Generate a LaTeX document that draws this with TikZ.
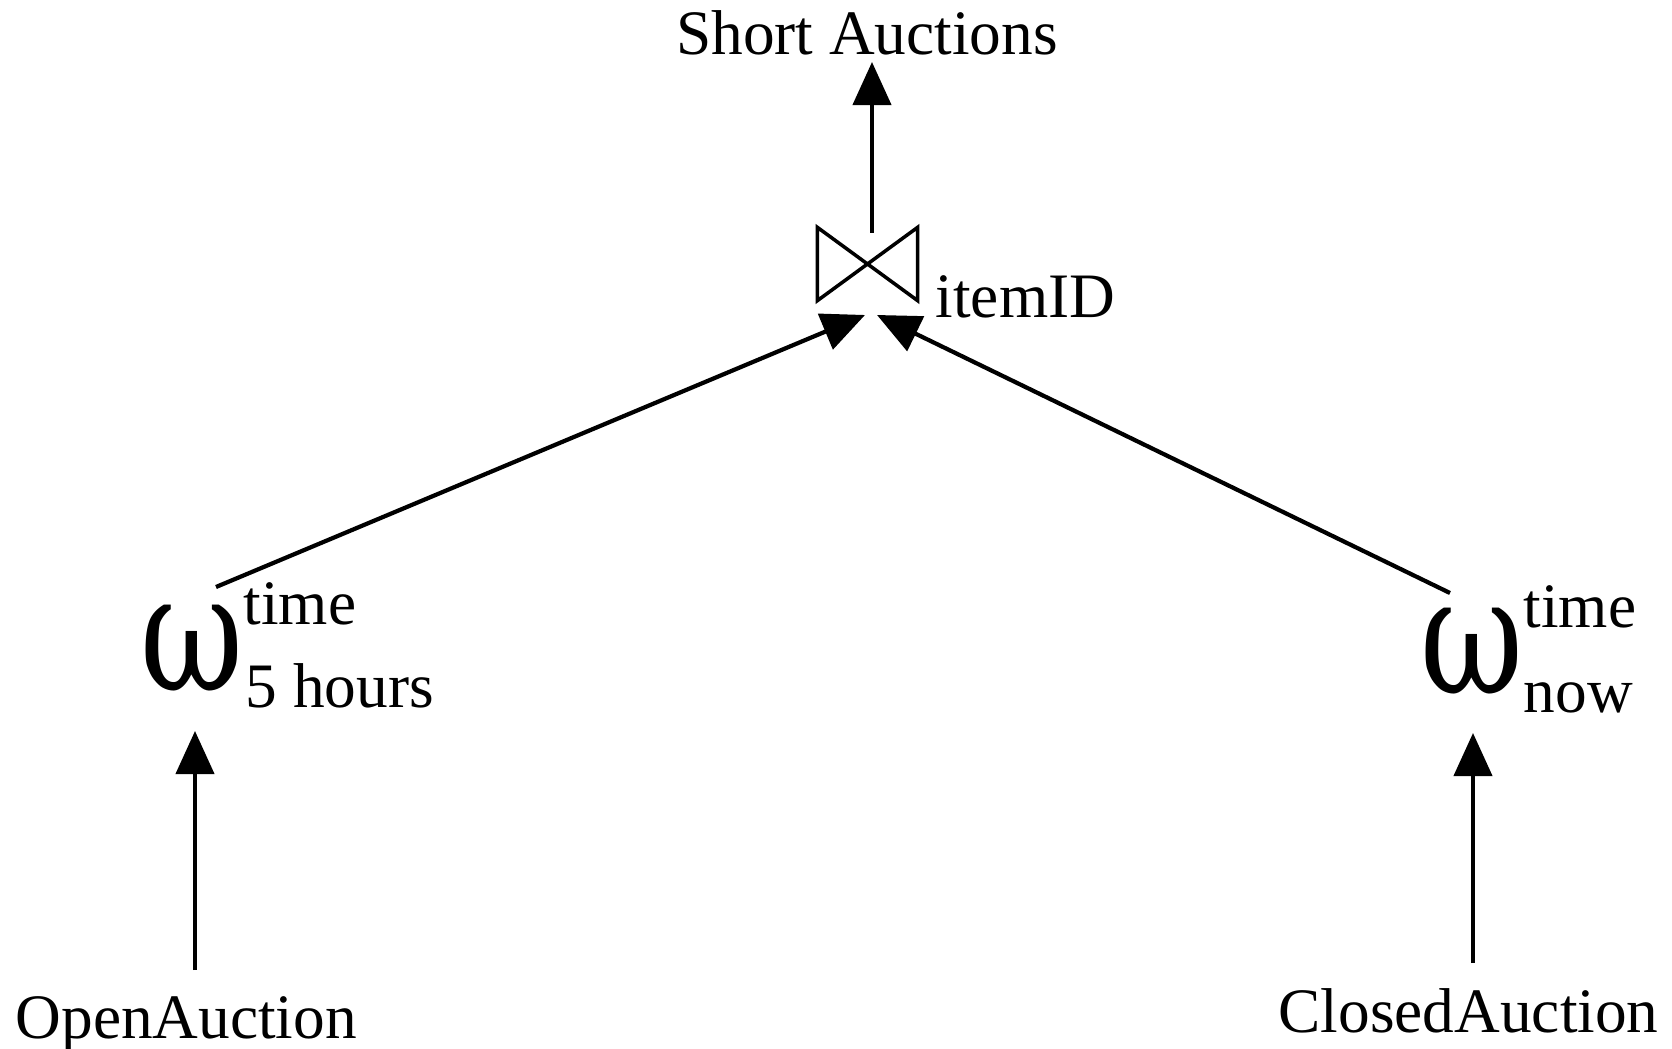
\documentclass[tikz,border=0pt]{standalone}
\usepackage{fontspec}
\setmainfont{Liberation Serif}
\newfontfamily\omegafont{DejaVu Serif}
\usetikzlibrary{arrows.meta}
\begin{document}
\begin{tikzpicture}[x=0.01cm,y=-0.01cm,
  lbl/.style={inner sep=0pt, font=\fontsize{18}{20}\selectfont},
  omg/.style={inner sep=0pt, font=\omegafont\fontsize{36}{40}\selectfont},
  arr/.style={line width=1.2pt, -{Triangle[length=0.43cm,width=0.38cm]}},
  bowline/.style={line width=1pt, line join=miter}]
\useasboundingbox (0,0) rectangle (1672,1049);
% texts
\node[lbl, anchor=base] (out) at (867,55) {Short Auctions};
\node[inner sep=0pt, minimum width=0.99cm, minimum height=0.72cm] (join) at (867.5,264) {};
\node[lbl, anchor=base west] (key) at (935,318) {itemID};
\node[omg, anchor=base west] (wl) at (140,690) {\scalebox{1}[1.3]{ω}};
\node[lbl, anchor=base west] (wlsup) at (243,625) {time};
\node[lbl, anchor=base west] (wlsub) at (245,708) {5 hours};
\node[omg, anchor=base west] (wr) at (1420,693) {\scalebox{1}[1.3]{ω}};
\node[lbl, anchor=base west] (wrsup) at (1523,628) {time};
\node[lbl, anchor=base west] (wrsub) at (1523,712) {now};
\node[lbl, anchor=base west] (oa) at (15,1038) {OpenAuction};
\node[lbl, anchor=base west] (ca) at (1278,1032) {ClosedAuction};
% bowtie
\draw[bowline] (join.north west) -- (join.south east) -- (join.north east) -- (join.south west) -- cycle;
% connector ends
\coordinate (outin) at (872,62);
\coordinate (joinout) at (872,233);
\coordinate (joinl) at (865,315);
\coordinate (joinr) at (877,315);
\coordinate (wlout) at (216,587);
\coordinate (wrout) at (1450,593);
\coordinate (wlin) at (195,731);
\coordinate (wrin) at (1473,733);
\coordinate (oaout) at (195,970);
\coordinate (caout) at (1473,963);
% connectors
\draw[arr] (joinout) -- (outin);
\draw[arr] (wlout) -- (joinl);
\draw[arr] (wrout) -- (joinr);
\draw[arr] (oaout) -- (wlin);
\draw[arr] (caout) -- (wrin);
\end{tikzpicture}
\end{document}
